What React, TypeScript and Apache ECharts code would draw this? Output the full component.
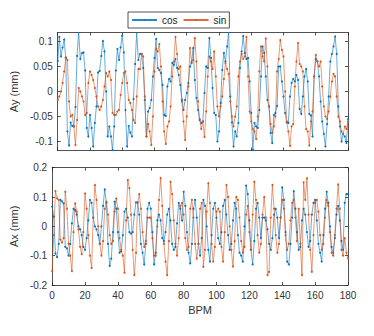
import React, { useEffect, useRef } from "react";
import * as echarts from "echarts";

const bpm: number[] = Array.from({ length: 181 }, (_, i) => i);

const ayCos: number[] = [
  0.061, 0.109, 0.07, 0.088, 0.104, 0.068, -0.08, -0.108, -0.062, -0.069,
  -0.07, -0.031, 0.071, 0.119, 0.065, 0.077, 0.078, 0.042, -0.073, -0.09,
  -0.047, -0.073, -0.11, -0.063, -0.03, 0.038, 0.041, 0.071, 0.101, 0.08,
  0.0, -0.09, -0.07, -0.09, -0.117, -0.07, 0.042, 0.085, 0.063, 0.088,
  0.112, 0.078, -0.037, -0.11, -0.069, -0.082, -0.09, -0.015, 0.055, 0.119,
  0.063, 0.075, 0.075, 0.047, -0.017, -0.09, -0.04, -0.033, -0.017, 0.03,
  0.067, 0.105, 0.047, 0.043, 0.037, 0.013, -0.047, -0.049, 0.01, 0.025,
  0.02, 0.057, 0.053, 0.065, 0.047, 0.033, 0.013, -0.017, -0.037, -0.017,
  -0.003, 0.017, 0.05, 0.057, 0.087, 0.023, -0.013, -0.037, -0.057, -0.063,
  -0.06, -0.003, 0.05, 0.047, 0.107, 0.067, 0.007, -0.043, -0.047, -0.1,
  -0.08, -0.023, 0.043, 0.077, 0.06, 0.09, 0.119, -0.01, -0.062, -0.11,
  -0.08, -0.09, -0.063, 0.047, 0.08, 0.111, 0.077, 0.065, 0.067, 0.02,
  -0.043, -0.117, -0.063, -0.07, -0.073, -0.037, 0.03, 0.09, 0.077, 0.03,
  -0.017, -0.03, -0.083, -0.103, -0.047, -0.043, -0.029, 0.05, 0.05, 0.02,
  -0.01, -0.043, -0.062, -0.063, -0.01, 0.017, 0.025, 0.02, 0.033, 0.023,
  -0.035, -0.045, -0.01, 0.03, 0.045, 0.02, -0.045, -0.048, -0.09, 0.03,
  0.065, 0.06, 0.03, -0.02, -0.06, -0.085, -0.11, -0.065, -0.01, 0.06,
  0.075, 0.09, 0.11, 0.075, -0.03, -0.07, -0.1, -0.085, -0.09, -0.103,
  -0.055,
];

const aySin: number[] = [
  -0.017, -0.01, 0.0, 0.017, 0.04, 0.067, 0.063, -0.02, -0.05, -0.047,
  -0.07, -0.107, -0.057, 0.007, 0.0, -0.01, -0.02, -0.047, -0.043, 0.017,
  0.04, 0.033, 0.023, 0.007, -0.01, -0.03, -0.037, -0.03, -0.017, 0.01,
  0.037, 0.03, 0.04, 0.023, -0.043, -0.047, -0.047, -0.04, -0.037, -0.007,
  0.017, 0.037, 0.04, 0.017, -0.017, -0.023, -0.037, -0.057, -0.063, -0.01,
  0.045, 0.045, 0.075, 0.07, -0.01, -0.09, -0.065, -0.08, -0.107, -0.05,
  0.04, 0.085, 0.08, 0.095, 0.05, -0.02, -0.08, -0.105, -0.07, -0.06,
  -0.03, 0.03, 0.06, 0.109, 0.075, 0.045, 0.05, -0.02, -0.06, -0.097,
  -0.05, 0.01, 0.087, 0.06, 0.063, 0.107, 0.06, -0.02, -0.055, -0.075,
  -0.06, -0.091, -0.04, 0.03, 0.07, 0.06, 0.045, 0.08, 0.03, -0.03,
  -0.05, -0.03, -0.01, 0.025, 0.057, 0.045, 0.035, -0.02, -0.05, -0.07,
  -0.05, -0.03, 0.03, 0.06, 0.075, 0.065, 0.07, 0.109, 0.03, -0.04,
  -0.06, -0.075, -0.08, -0.095, -0.05, 0.04, 0.09, 0.07, 0.06, 0.106,
  0.05, -0.03, -0.065, -0.083, -0.07, -0.05, 0.04, 0.065, 0.103, 0.083,
  0.07, 0.0, -0.06, -0.08, -0.109, -0.07, -0.065, 0.01, 0.06, 0.097,
  0.055, 0.05, 0.04, -0.03, -0.075, -0.08, -0.108, -0.06, -0.04, 0.03,
  0.073, 0.06, 0.05, 0.06, 0.01, -0.03, -0.05, -0.055, -0.04, -0.01,
  0.02, 0.035, 0.03, -0.01, -0.05, -0.06, -0.08, -0.085, -0.07, -0.075,
  -0.06,
];

const axCos: number[] = [
  0.067, 0.033, -0.092, -0.105, -0.06, 0.09, 0.085, 0.078, -0.07, -0.075,
  -0.1, -0.06, 0.01, 0.06, 0.055, 0.04, 0.0, -0.01, -0.03, -0.07,
  -0.08, -0.04, 0.02, 0.09, 0.08, 0.03, 0.0, -0.01, -0.03, -0.06,
  0.0, 0.07, 0.126, 0.08, -0.06, -0.135, -0.11, -0.02, 0.084, 0.06,
  -0.02, -0.09, -0.085, -0.03, 0.05, 0.06, 0.03, -0.02, -0.025, -0.02,
  0.04, 0.082, 0.082, 0.04, -0.06, -0.09, -0.13, -0.06, 0.06, 0.08,
  0.06, -0.02, -0.13, -0.09, 0.02, 0.04, 0.02, -0.04, -0.05, -0.02,
  0.04, 0.06, 0.02, -0.06, -0.08, -0.07, 0.01, 0.08, 0.06, 0.02,
  0.118, 0.07, -0.02, -0.09, -0.126, -0.06, 0.06, 0.09, 0.03, -0.06,
  -0.1, -0.04, 0.09, 0.07, 0.0, -0.08, -0.12, -0.03, 0.06, 0.08,
  0.03, -0.04, -0.06, -0.02, 0.07, 0.09, 0.04, -0.03, -0.08, -0.06,
  0.02, 0.08, 0.06, -0.03, -0.09, -0.1, -0.12, 0.0, 0.139, 0.11,
  0.02, -0.08, -0.13, -0.05, 0.06, 0.08, 0.03, -0.04, 0.03, 0.03,
  0.02, -0.01, -0.06, -0.08, -0.04, 0.04, 0.06, 0.03, -0.04, 0.03,
  0.133, 0.09, -0.02, -0.12, -0.13, -0.06, 0.03, 0.12, 0.06, -0.02,
  -0.08, -0.07, 0.02, 0.06, 0.04, -0.02, -0.07, -0.05, 0.04, 0.08,
  0.09, 0.02, -0.06, -0.09, -0.12, -0.03, 0.06, 0.118, 0.08, 0.0,
  -0.07, -0.09, -0.04, 0.04, 0.07, 0.02, -0.05, -0.08, 0.08, 0.11,
  0.11,
];

const axSin: number[] = [
  -0.153, -0.03, 0.12, 0.095, 0.09, -0.045, -0.055, -0.04, 0.118, 0.06,
  -0.06, -0.1, -0.153, -0.02, 0.078, 0.05, -0.01, -0.07, -0.095, -0.02,
  0.112, 0.06, -0.03, -0.1, -0.142, 0.03, 0.141, 0.09, 0.0, -0.06,
  -0.1, -0.05, 0.06, 0.084, 0.04, -0.03, -0.06, -0.05, 0.05, 0.095,
  0.06, -0.04, -0.08, -0.1, -0.158, 0.02, 0.158, 0.13, 0.04, -0.08,
  -0.166, -0.09, 0.08, 0.11, 0.06, -0.02, -0.07, -0.05, 0.03, 0.03,
  0.03, -0.04, -0.1, -0.1, 0.0, 0.09, 0.165, 0.07, -0.06, -0.12,
  -0.166, -0.05, 0.152, 0.11, 0.02, -0.06, -0.1, -0.04, 0.07, 0.08,
  0.04, -0.04, -0.08, -0.07, 0.06, 0.09, 0.03, -0.06, -0.11, -0.06,
  0.06, 0.08, -0.138, -0.08, 0.05, 0.147, 0.08, -0.06, -0.12, -0.07,
  0.05, 0.06, 0.05, -0.07, -0.12, -0.02, 0.141, 0.1, 0.0, -0.08,
  -0.137, -0.05, 0.1, 0.09, 0.03, -0.05, -0.09, -0.07, 0.04, 0.07,
  -0.02, -0.08, 0.04, 0.152, 0.09, -0.03, -0.09, -0.06, 0.04, 0.1,
  0.03, -0.166, -0.155, 0.03, 0.141, 0.06, -0.03, -0.09, -0.06, 0.03,
  0.09, 0.06, -0.03, -0.08, -0.06, 0.02, 0.08, 0.09, 0.03, -0.05,
  0.06, -0.06, -0.166, 0.15, 0.09, 0.164, 0.04, -0.08, -0.155, -0.03,
  0.08, 0.09, 0.05, -0.03, -0.08, -0.06, 0.03, 0.09, 0.07, -0.02,
  -0.09, -0.1, -0.03, 0.06, 0.143, 0.06, -0.08, -0.1, -0.04, -0.09,
  -0.109,
];

const xTicks = { min: 0, max: 180, interval: 20 };
const ayTicks: number[] = [-0.1, -0.05, 0, 0.05, 0.1];
const ayRange = { min: -0.118, max: 0.118 };
const axRange = { min: -0.2, max: 0.2, interval: 0.1 };

const BLUE = "#0072BD";
const ORANGE = "#D95319";
const AXC = "#262626";
const FONT = "Liberation Sans, Arial, sans-serif";

export default function App() {
  const ref = useRef<HTMLDivElement>(null);
  useEffect(() => {
    if (!ref.current) return;
    const chart = echarts.init(ref.current, undefined, { renderer: "svg" });
    const line = { lineStyle: { color: AXC, width: 0.8 } };
    const tickIn = { show: true, inside: true, length: 3, lineStyle: { color: AXC, width: 0.8 } };
    const mkX = (grid: number, pos: "bottom" | "top", labels: boolean, name?: string) => ({
      type: "value",
      gridIndex: grid,
      position: pos,
      ...xTicks,
      axisLine: { show: true, onZero: false, ...line },
      axisTick: tickIn,
      splitLine: { show: false },
      axisLabel: labels
        ? { show: true, color: "#333", fontSize: 10, fontFamily: FONT, margin: 5 }
        : { show: false },
      name: name,
      nameLocation: "middle",
      nameGap: 19,
      nameTextStyle: { color: "#333", fontSize: 11, fontFamily: FONT },
    });
    const mkY = (grid: number, pos: "left" | "right", labels: boolean, kind: "ay" | "ax", name?: string) => {
      const base: any = {
        type: "value",
        gridIndex: grid,
        position: pos,
        axisLine: { show: true, onZero: false, ...line },
        splitLine: { show: false },
        name: name,
        nameLocation: "middle",
        nameGap: 30,
        nameRotate: 90,
        nameTextStyle: { color: "#333", fontSize: 11, fontFamily: FONT },
      };
      if (kind === "ay") {
        Object.assign(base, ayRange);
        base.axisTick = { ...tickIn, customValues: ayTicks };
        base.axisLabel = labels
          ? { show: true, color: "#333", fontSize: 10, fontFamily: FONT, margin: 5, customValues: ayTicks }
          : { show: false };
      } else {
        Object.assign(base, axRange);
        base.axisTick = tickIn;
        base.axisLabel = labels
          ? { show: true, color: "#333", fontSize: 10, fontFamily: FONT, margin: 5 }
          : { show: false };
      }
      return base;
    };
    const mkSeries = (name: string, data: number[], color: string, xi: number, yi: number) => ({
      name,
      type: "line",
      xAxisIndex: xi,
      yAxisIndex: yi,
      data: bpm.map((b, i) => [b, data[i]]),
      symbol: "circle",
      symbolSize: 2,
      showSymbol: true,
      itemStyle: { color },
      lineStyle: { color, width: 0.7, opacity: 0.85 },
      clip: true,
    });
    chart.setOption({
      animation: false,
      backgroundColor: "#ffffff",
      legend: {
        data: ["cos", "sin"],
        left: 128,
        top: 12,
        orient: "horizontal",
        itemWidth: 25,
        itemHeight: 2,
        itemGap: 5,
        padding: [3, 3],
        borderColor: "#262626",
        borderWidth: 0.8,
        backgroundColor: "#fff",
        textStyle: { color: "#222", fontSize: 10, fontFamily: FONT },
      },
      grid: [
        { left: 48, top: 32.5, width: 300, height: 118 },
        { left: 48, top: 167.7, width: 300, height: 117.3 },
      ],
      xAxis: [
        mkX(0, "bottom", false),
        mkX(0, "top", false),
        mkX(1, "bottom", true, "BPM"),
        mkX(1, "top", false),
      ],
      yAxis: [
        mkY(0, "left", true, "ay", "Ay (mm)"),
        mkY(0, "right", false, "ay"),
        mkY(1, "left", true, "ax", "Ax (mm)"),
        mkY(1, "right", false, "ax"),
      ],
      series: [
        mkSeries("cos", ayCos, BLUE, 0, 0),
        mkSeries("sin", aySin, ORANGE, 0, 0),
        mkSeries("cos", axCos, BLUE, 2, 2),
        mkSeries("sin", axSin, ORANGE, 2, 2),
      ],
    });
    return () => chart.dispose();
  }, []);
  return (
    <div
      ref={ref}
      style={{ position: "fixed", left: 0, top: 0, width: 374, height: 336, background: "#fff" }}
    />
  );
}
